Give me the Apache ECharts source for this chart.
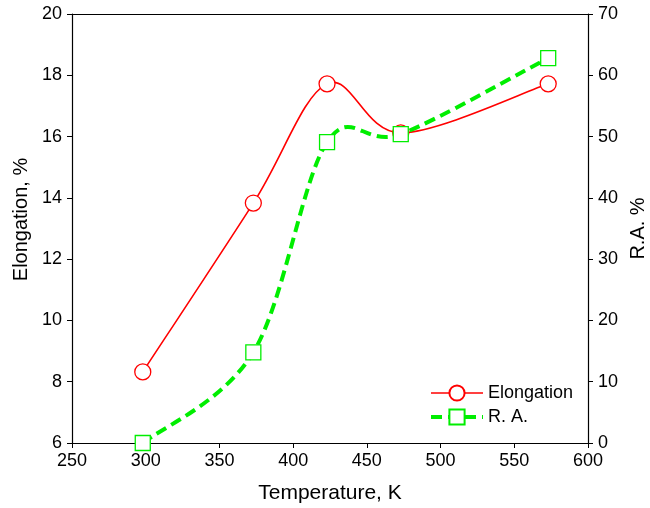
<!DOCTYPE html>
<html>
<head>
<meta charset="utf-8">
<script src="https://cdn.jsdelivr.net/npm/echarts@6/dist/echarts.min.js"></script>
<style>
  html, body { margin: 0; padding: 0; background: #fff; }
  #chart { width: 650px; height: 508px; }
</style>
</head>
<body>
<div id="chart"></div>
<script>
// temperatures, K
var temps = [298, 373, 423, 473, 573]
// elongation, % (left axis)
var elongation = [8.32, 13.83, 17.72, 16.12, 17.72]
// reduction of area, % (right axis)
var ra = [0, 14.8, 49.1, 50.4, 62.8]

var font = 'Liberation Sans, Arial, sans-serif'
var red = '#ff0000'
var green = '#00ee00'

var chart = echarts.init(document.getElementById('chart'))

function pairs (xs, ys) {
  var out = []
  for (var i = 0; i < xs.length; i++) {
    out.push([xs[i], ys[i]])
  }
  return out
}

// draws a catmull-rom spline through the series' points (pixel coords come from api.coord)
function spline (xs, ys, lineStyle) {
  return function (params, api) {
    if (params.dataIndex !== 0) return
    var p = []
    for (var i = 0; i < xs.length; i++) {
      p.push(api.coord([xs[i], ys[i]]))
    }
    var n = p.length
    var d = 'M' + p[0][0] + ' ' + p[0][1]
    for (var k = 0; k < n - 1; k++) {
      var a = p[Math.max(k - 1, 0)]
      var b = p[k]
      var c = p[k + 1]
      var e = p[Math.min(k + 2, n - 1)]
      var c1x = b[0] + (c[0] - a[0]) / 6
      var c1y = b[1] + (c[1] - a[1]) / 6
      var c2x = c[0] - (e[0] - b[0]) / 6
      var c2y = c[1] - (e[1] - b[1]) / 6
      d += ' C' + c1x + ' ' + c1y + ' ' + c2x + ' ' + c2y + ' ' + c[0] + ' ' + c[1]
    }
    return {
      type: 'path',
      shape: { pathData: d },
      style: lineStyle,
      silent: true
    }
  }
}

var tickText = { color: '#000', fontSize: 18, fontFamily: font }
var nameText = { color: '#000', fontSize: 20, fontFamily: font }
var lineBlack = { show: true, lineStyle: { color: '#000', width: 1.2 } }

var option = {
  animation: false,
  grid: { left: 72, right: 62, top: 14, bottom: 65, outerBoundsMode: 'none', containLabel: false },
  legend: {
    orient: 'vertical',
    left: 424,
    top: 379,
    itemWidth: 52,
    itemHeight: 19,
    itemGap: 6,
    textStyle: tickText,
    data: [
      { name: 'Elongation', lineStyle: { color: red, width: 1.6, opacity: 1 } },
      { name: 'R. A.', lineStyle: { color: green, width: 4, type: [11, 6], opacity: 1 } }
    ]
  },
  xAxis: [
    {
      type: 'value',
      min: 250,
      max: 600,
      interval: 50,
      name: 'Temperature, K',
      nameLocation: 'middle',
      nameGap: 40,
      nameTextStyle: Object.assign({}, nameText, { fontSize: 21 }),
      axisLine: lineBlack,
      axisTick: { show: true, length: 5, lineStyle: { color: '#000' } },
      axisLabel: Object.assign({ margin: 9 }, tickText),
      splitLine: { show: false }
    },
    {
      type: 'value',
      position: 'top',
      min: 250,
      max: 600,
      axisLine: lineBlack,
      axisTick: { show: false },
      axisLabel: { show: false },
      splitLine: { show: false }
    }
  ],
  yAxis: [
    {
      type: 'value',
      min: 6,
      max: 20,
      interval: 2,
      name: 'Elongation, %',
      nameLocation: 'middle',
      nameGap: 40,
      nameTextStyle: Object.assign({ padding: [0, 0, 0, 18] }, nameText),
      axisLine: lineBlack,
      axisTick: { show: true, length: 5, lineStyle: { color: '#000' } },
      axisLabel: Object.assign({ margin: 10 }, tickText),
      splitLine: { show: false }
    },
    {
      type: 'value',
      min: 0,
      max: 70,
      interval: 10,
      position: 'right',
      name: 'R.A. %',
      nameLocation: 'middle',
      nameGap: 39,
      nameRotate: 90,
      nameTextStyle: nameText,
      axisLine: lineBlack,
      axisTick: { show: true, length: 5, lineStyle: { color: '#000' } },
      axisLabel: Object.assign({ margin: 10 }, tickText),
      splitLine: { show: false }
    }
  ],
  series: [
    {
      name: 'Elongation curve',
      type: 'custom',
      yAxisIndex: 0,
      data: pairs(temps, elongation),
      encode: { x: 0, y: 1 },
      renderItem: spline(temps, elongation, { fill: null, stroke: red, lineWidth: 1.6 }),
      z: 2
    },
    {
      name: 'R. A. curve',
      type: 'custom',
      yAxisIndex: 1,
      data: pairs(temps, ra),
      encode: { x: 0, y: 1 },
      renderItem: spline(temps, ra, { fill: null, stroke: green, lineWidth: 4, lineDash: [11, 6] }),
      z: 2
    },
    {
      name: 'Elongation',
      type: 'line',
      yAxisIndex: 0,
      data: pairs(temps, elongation),
      symbol: 'circle',
      symbolSize: 16,
      lineStyle: { color: red, width: 1.6, opacity: 0 },
      itemStyle: { color: '#fff', borderColor: red, borderWidth: 1.3 },
      z: 3
    },
    {
      name: 'R. A.',
      type: 'line',
      yAxisIndex: 1,
      data: pairs(temps, ra),
      symbol: 'rect',
      symbolSize: 15,
      lineStyle: { color: green, width: 4, type: [11, 6], opacity: 0 },
      itemStyle: { color: '#fff', borderColor: green, borderWidth: 1.3 },
      z: 4
    }
  ]
}

chart.setOption(option)
</script>
</body>
</html>
